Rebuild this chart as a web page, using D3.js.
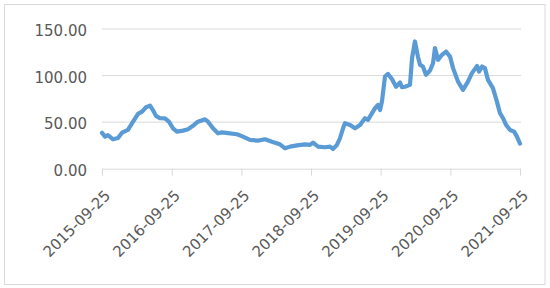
<!DOCTYPE html>
<html>
<head>
<meta charset="utf-8">
<script src="https://cdn.jsdelivr.net/npm/d3@7"></script>
<style>
  body { margin: 0; background: #fff; }
  .axisText { font-family: "DejaVu Sans", sans-serif; font-size: 15px; fill: #595959; }
</style>
</head>
<body>
<div id="line-chart"></div>
<script>
// Dates
var dates = [
    "2015-09-25", "2015-10-11", "2015-10-26", "2015-11-22", "2015-12-18", "2016-01-08",
    "2016-02-08", "2016-03-06", "2016-04-01", "2016-04-22", "2016-05-13", "2016-06-03",
    "2016-06-18", "2016-07-04", "2016-07-25", "2016-08-20", "2016-09-10", "2016-10-01",
    "2016-10-22", "2016-11-23", "2016-12-19", "2017-01-14", "2017-02-09", "2017-03-08",
    "2017-03-18", "2017-04-03", "2017-04-29", "2017-05-25", "2017-06-15", "2017-07-27",
    "2017-09-02", "2017-10-03", "2017-11-09", "2017-12-21", "2018-01-27", "2018-03-04",
    "2018-04-15", "2018-05-12", "2018-06-07", "2018-07-14", "2018-08-25", "2018-09-20",
    "2018-10-06", "2018-11-01", "2018-12-07", "2019-01-03", "2019-01-18", "2019-02-08",
    "2019-02-24", "2019-03-12", "2019-03-22", "2019-04-18", "2019-05-14", "2019-06-09",
    "2019-07-05", "2019-07-21", "2019-08-11", "2019-08-27", "2019-09-11", "2019-09-22",
    "2019-10-02", "2019-10-18", "2019-11-03", "2019-11-24", "2019-12-15", "2020-01-05",
    "2020-01-15", "2020-01-31", "2020-02-26", "2020-03-08", "2020-03-23", "2020-04-08",
    "2020-04-19", "2020-05-04", "2020-05-20", "2020-06-10", "2020-06-26", "2020-07-06",
    "2020-07-22", "2020-08-12", "2020-09-02", "2020-09-23", "2020-10-09", "2020-11-04",
    "2020-11-30", "2020-12-26", "2021-01-16", "2021-02-12", "2021-02-22", "2021-03-10",
    "2021-03-25", "2021-04-10", "2021-05-06", "2021-05-27", "2021-06-12", "2021-06-28",
    "2021-07-14", "2021-08-04", "2021-08-25", "2021-09-09", "2021-09-25"
];

// Values for each date
var values = [
    38.5, 34.4, 36, 31.6, 33, 38.7,
    41.6, 50.5, 58.8, 61.3, 66, 67.7,
    63, 56.7, 54.2, 54, 50.5, 43.4,
    39.8, 40.9, 42.4, 46, 50.5, 52.4,
    53, 50.5, 43.4, 38, 39, 38,
    37, 34.4, 30.9, 30.1, 31.6, 29,
    26.2, 21.9, 23.7, 25, 26.2, 25.5,
    28, 23.7, 23, 23.7, 21.2, 25.5,
    32.7, 43.4, 48.8, 47, 43.4, 47,
    54.2, 52.4, 59.6, 65, 68.5, 63,
    72, 99, 101.8, 96, 88, 92.5,
    87.5, 88, 90, 118.7, 136.6, 120,
    111.5, 109.7, 100.8, 105.4, 113.3, 129.5,
    116.9, 122.3, 125.8, 120.4, 108, 93.5,
    84.6, 93.5, 102.6, 110.4, 104.3, 109.7,
    108, 95.4, 86.5, 72, 59.6, 54.2,
    47, 41.6, 39.8, 34.4, 27
];

// Tick labels
var xTickLabels = ["2015-09-25", "2016-09-25", "2017-09-25", "2018-09-25",
    "2019-09-25", "2020-09-25", "2021-09-25"];
var yTickValues = [0, 50, 100, 150];

var svgWidth = 550;
var svgHeight = 288;

var margin = { top: 29, right: 30, bottom: 119.3, left: 102 };
var width = svgWidth - margin.left - margin.right;
var height = svgHeight - margin.top - margin.bottom;

var parseDate = d3.timeParse("%Y-%m-%d");

var chartData = dates.map((d, i) => ({ date: parseDate(d), value: values[i] }));

var svg = d3.select("#line-chart")
    .append("svg")
    .attr("width", svgWidth)
    .attr("height", svgHeight);

// Outer border
svg.append("rect")
    .attr("x", 4.5)
    .attr("y", 4.5)
    .attr("width", 540.5)
    .attr("height", 280)
    .attr("fill", "#fff")
    .attr("stroke", "#d9d9d9");

var chartGroup = svg.append("g")
    .attr("transform", `translate(${margin.left}, ${margin.top})`);

var xTimeScale = d3.scaleTime()
    .domain([parseDate(xTickLabels[0]), parseDate(xTickLabels[xTickLabels.length - 1])])
    .range([0, width]);

var yLinearScale = d3.scaleLinear()
    .domain([0, 150])
    .range([height, 0]);

// Gridlines
chartGroup.selectAll(".grid")
    .data(yTickValues.filter(v => v > 0))
    .enter()
    .append("line")
    .attr("x1", 0)
    .attr("x2", width + 1)
    .attr("y1", d => yLinearScale(d))
    .attr("y2", d => yLinearScale(d))
    .attr("stroke", "#d9d9d9")
    .attr("stroke-width", 1);

// Y axis labels
var leftAxis = d3.axisLeft(yLinearScale)
    .tickValues(yTickValues)
    .tickFormat(d3.format(".2f"))
    .tickSize(0)
    .tickPadding(15);

var yAxisGroup = chartGroup.append("g").call(leftAxis);
yAxisGroup.select(".domain").remove();
yAxisGroup.selectAll("text")
    .attr("class", "axisText")
    .attr("dy", "0.44em");

// X axis
var bottomAxis = d3.axisBottom(xTimeScale)
    .tickValues(xTickLabels.map(parseDate))
    .tickFormat(d3.timeFormat("%Y-%m-%d"))
    .tickSize(7)
    .tickSizeOuter(0);

var xAxisGroup = chartGroup.append("g")
    .attr("transform", `translate(0, ${height})`)
    .call(bottomAxis);

xAxisGroup.select(".domain").attr("stroke", "#d9d9d9");
xAxisGroup.selectAll(".tick line").attr("stroke", "#d9d9d9");
xAxisGroup.selectAll("text")
    .attr("class", "axisText")
    .attr("y", 0)
    .attr("x", 0)
    .attr("dy", "0.35em")
    .attr("text-anchor", "end")
    .attr("transform", "translate(5, 24) rotate(-45)");

// Line
var drawLine = d3.line()
    .x(d => xTimeScale(d.date))
    .y(d => yLinearScale(d.value));

chartGroup.append("path")
    .datum(chartData)
    .attr("d", drawLine)
    .attr("fill", "none")
    .attr("stroke", "#5b9bd5")
    .attr("stroke-width", 4.2)
    .attr("stroke-linejoin", "round")
    .attr("stroke-linecap", "round");
</script>
</body>
</html>
